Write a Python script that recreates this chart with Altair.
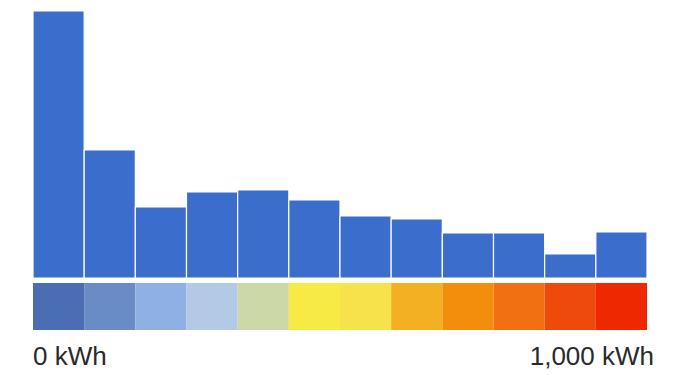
import altair as alt
import pandas as pd

# data
bin_start = list(range(12))
bin_end = list(range(1, 13))
counts = [267, 128, 71, 86, 88, 78, 62, 59, 45, 45, 24, 46]
strip_colors = ["#4a6db3", "#6a8cc6", "#8fb0e3", "#b3cae6", "#cdd8a8", "#f7ea45",
                "#f6e24a", "#f2b022", "#f28e0c", "#f07012", "#ee4a0c", "#ee2800"]
label_pos = [0, 12]
label_text = ["0 kWh", "1,000 kWh"]

bars_df = pd.DataFrame({"start": bin_start, "end": bin_end, "count": counts, "color": strip_colors})
labels_df = pd.DataFrame({"pos": label_pos, "text": label_text, "align": ["left", "right"]})

xscale = alt.Scale(domain=[0, 12], range=[25, 639])
yscale = alt.Scale(domain=[0, 267], range=[270, 3])

bars = alt.Chart(bars_df).mark_bar(color="#3b6ecc", stroke="white", strokeWidth=1.2).encode(
    x=alt.X("start:Q", scale=xscale, axis=None),
    x2="end:Q",
    y=alt.Y("count:Q", scale=yscale, axis=None),
    y2=alt.value(270),
)

strip = alt.Chart(bars_df).mark_rect().encode(
    x=alt.X("start:Q", scale=xscale, axis=None),
    x2="end:Q",
    y=alt.value(275),
    y2=alt.value(322),
    color=alt.Color("color:N", scale=None, legend=None),
)

left_label = alt.Chart(labels_df[labels_df["align"] == "left"]).mark_text(
    align="left", baseline="alphabetic", fontSize=26, font="Liberation Sans", color="#2a2a2a", dx=0
).encode(x=alt.X("pos:Q", scale=xscale, axis=None), y=alt.value(357), text="text:N")

right_label = alt.Chart(labels_df[labels_df["align"] == "right"]).mark_text(
    align="right", baseline="alphabetic", fontSize=26, font="Liberation Sans", color="#2a2a2a", dx=7
).encode(x=alt.X("pos:Q", scale=xscale, axis=None), y=alt.value(357), text="text:N")

chart = alt.layer(bars, strip, left_label, right_label).properties(
    width=674, height=367, autosize=alt.AutoSizeParams(type="none"), padding=0
).configure(background="white", view=alt.ViewConfig(stroke=None))

chart.save("out.html", embed_options={"renderer": "svg", "actions": False})
